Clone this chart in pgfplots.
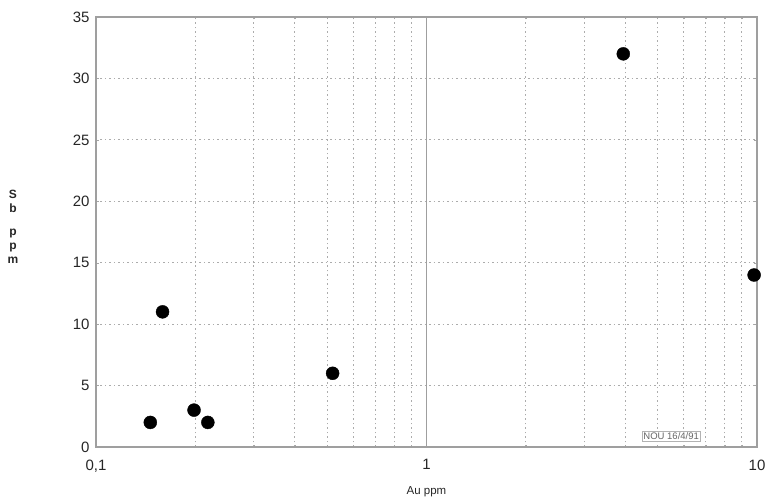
\documentclass[border=0pt]{standalone}
\usepackage{fontspec}
\setmainfont{Liberation Sans}
\usepackage{pgfplots}
\pgfplotsset{compat=1.18}
\begin{document}
\begin{tikzpicture}
\begin{axis}[
  scale only axis,
  width=661pt, height=430pt,
  xmode=log, log basis x=10,
  xmin=0.1, xmax=10, ymin=0, ymax=35,
  ytick={0,5,10,15,20,25,30,35},
  xtick={0.1,1,10},
  xticklabels={{0,1},1,10},
  minor xtick={0.2,0.3,0.4,0.5,0.6,0.7,0.8,0.9,2,3,4,5,6,7,8,9},
  grid=both,
  major grid style={gray!65, dash pattern=on 1.5pt off 3pt, line width=1pt},
  minor grid style={gray!65, dash pattern=on 1.5pt off 3pt, line width=1pt},
  axis line style={gray!75, line width=1.3pt},
  tick style={gray!70},
  major tick length=3pt, minor tick length=2pt,
  tick align=inside,
  ticklabel style={font=\fontsize{15}{16}\selectfont, text=black!85},
  /pgf/number format/assume math mode=true,
  xticklabel style={yshift=-9pt},
  yticklabel style={xshift=-3pt},
  xlabel={Au ppm}, xlabel style={font=\fontsize{11.5}{12}\selectfont, yshift=-8pt, text=black!85},
  clip=false,
]
\draw[gray!75, line width=1.3pt] (axis cs:1,0) -- (axis cs:1,35);
\addplot[only marks, mark=*, mark size=6.5pt, black] coordinates {
  (0.146,2) (0.159,11) (0.198,3) (0.218,2) (0.52,6) (3.94,32) (9.8,14)
};
\node[draw=gray!60, fill=white, inner sep=1.5pt, font=\fontsize{9.5}{10}\selectfont, text=gray!80!black] at (axis cs:5.5,0.9) {NOU 16/4/91};
\coordinate (sw) at (rel axis cs:0,0);
\coordinate (ne) at (rel axis cs:1,1);
\end{axis}
\node[align=center, font=\fontsize{12}{14}\selectfont\bfseries, inner sep=0pt, anchor=north, text=black!85] at ([xshift=-83pt,yshift=257pt]sw) {S\\b\\[9pt]p\\p\\m};
\useasboundingbox ([xshift=-96pt,yshift=-57pt]sw) rectangle ([xshift=18pt,yshift=17pt]ne);
\end{tikzpicture}
\end{document}
